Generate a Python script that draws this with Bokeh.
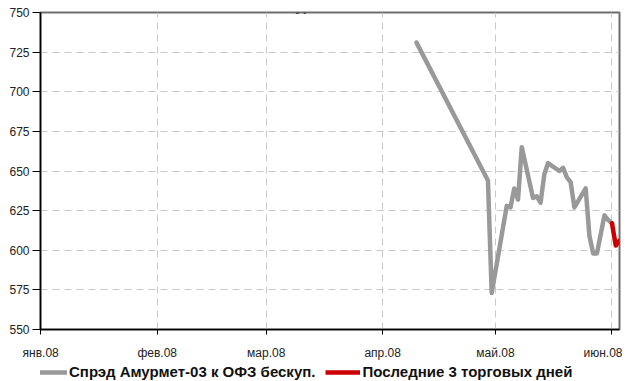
import pandas as pd
from bokeh.plotting import figure
from bokeh.layouts import column
from bokeh.models import (Range1d, MonthsTicker, DatetimeTickFormatter, SingleIntervalTicker,
                          Legend, LegendItem, Label)
from bokeh.embed import file_html
from bokeh.resources import INLINE

# ---- data ----
spread_dates = ["2008-04-10", "2008-04-29", "2008-04-30", "2008-05-04", "2008-05-05",
                "2008-05-06", "2008-05-07", "2008-05-08", "2008-05-11", "2008-05-12",
                "2008-05-13", "2008-05-14", "2008-05-15", "2008-05-18", "2008-05-19",
                "2008-05-20", "2008-05-21", "2008-05-22", "2008-05-25", "2008-05-26",
                "2008-05-27", "2008-05-28", "2008-05-30", "2008-05-31", "2008-06-01"]
spread_values = [731, 644, 573, 628, 627,
                 639, 632, 665, 633, 634,
                 630, 648, 655, 650, 652,
                 646, 643, 627, 639, 609,
                 598, 598, 622, 619, 617]
last_dates = ["2008-06-01", "2008-06-02", "2008-06-03"]
last_values = [617, 603, 606]

x_start, x_end = "2007-12-31 23:00", "2008-06-03"
y_start, y_end, y_step = 550, 750, 25

month_ticks = ["2008-01-01", "2008-02-01", "2008-03-01", "2008-04-01", "2008-05-01", "2008-06-01"]
month_labels = ["янв.08", "фев.08", "мар.08", "апр.08", "май.08", "июн.08"]

title_text = "Амурмет-03"
series_names = ["Спрэд Амурмет-03 к ОФЗ бескуп.", "Последние 3 торговых дней"]
series_colors = ["#999999", "#cc0000"]

FONT = "Liberation Sans"
W = 622

p = figure(width=W, height=362, output_backend="svg", toolbar_location=None,
           x_axis_type="datetime",
           x_range=Range1d(pd.Timestamp(x_start), pd.Timestamp(x_end)),
           y_range=Range1d(y_start, y_end),
           min_border_left=40, min_border_right=3, min_border_top=12, min_border_bottom=30)

p.outline_line_color = "#6e6e6e"
p.outline_line_width = 2
p.background_fill_color = "white"
p.border_fill_color = "white"

p.line(pd.to_datetime(spread_dates), spread_values, line_color=series_colors[0], line_width=4.5,
       line_join="round", line_cap="round")
p.line(pd.to_datetime(last_dates), last_values, line_color=series_colors[1], line_width=4.5,
       line_join="round", line_cap="round")

# axes
p.xaxis.ticker = MonthsTicker(months=list(range(1, 13)))
p.xaxis.formatter = DatetimeTickFormatter(months="%m")
p.xaxis.major_label_overrides = {
    pd.Timestamp(d).value / 1e6: lbl for d, lbl in zip(month_ticks, month_labels)
}
p.yaxis.ticker = SingleIntervalTicker(interval=y_step, num_minor_ticks=0)

for ax in (p.xaxis[0], p.yaxis[0]):
    ax.axis_line_color = "black"
    ax.axis_line_width = 1.5
    ax.major_tick_line_color = "black"
    ax.major_tick_in = 0
    ax.minor_tick_line_color = None
    ax.major_label_text_font = FONT
    ax.major_label_text_font_size = "12px"
    ax.major_label_text_color = "#222222"

p.xaxis.major_tick_out = 5
p.xaxis.major_label_standoff = 11
p.yaxis.major_tick_out = 8
p.yaxis.major_label_standoff = 3

for g in (p.xgrid[0], p.ygrid[0]):
    g.grid_line_color = "#c8c8c8"
    g.grid_line_dash = "7 5"
    g.grid_line_width = 1

# title (mostly cut off at the top, as in the reference)
p.add_layout(Label(x=275, y=324, x_units="screen", y_units="screen", text=title_text,
                   text_align="center", text_baseline="alphabetic",
                   text_font=FONT, text_font_style="bold", text_font_size="14px"))

# legend strip below the chart (dummy renderers lie outside its visible range)
lg = figure(width=W, height=18, output_backend="svg", toolbar_location=None,
            x_range=Range1d(0, 1), y_range=Range1d(0, 1),
            x_axis_location=None, y_axis_location=None,
            min_border_left=0, min_border_right=0, min_border_top=0, min_border_bottom=0)
lg.outline_line_color = None
lg.xgrid.visible = False
lg.ygrid.visible = False
lg.background_fill_alpha = 0
dummies = [lg.line([-2, -1], [-2, -1], line_color=c, line_width=4.5) for c in series_colors]

legend = Legend(items=[LegendItem(label=n, renderers=[r]) for n, r in zip(series_names, dummies)],
                orientation="horizontal", location=(-8, 0),
                glyph_width=35, glyph_height=14, label_standoff=2, spacing=10,
                padding=0, margin=0, border_line_alpha=0, background_fill_alpha=0,
                label_text_font=FONT, label_text_font_style="bold",
                label_text_font_size="15px", label_text_color="#111111")
lg.add_layout(legend)

layout = column(p, lg, spacing=0)
open("out.html", "w").write(file_html(layout, INLINE))
